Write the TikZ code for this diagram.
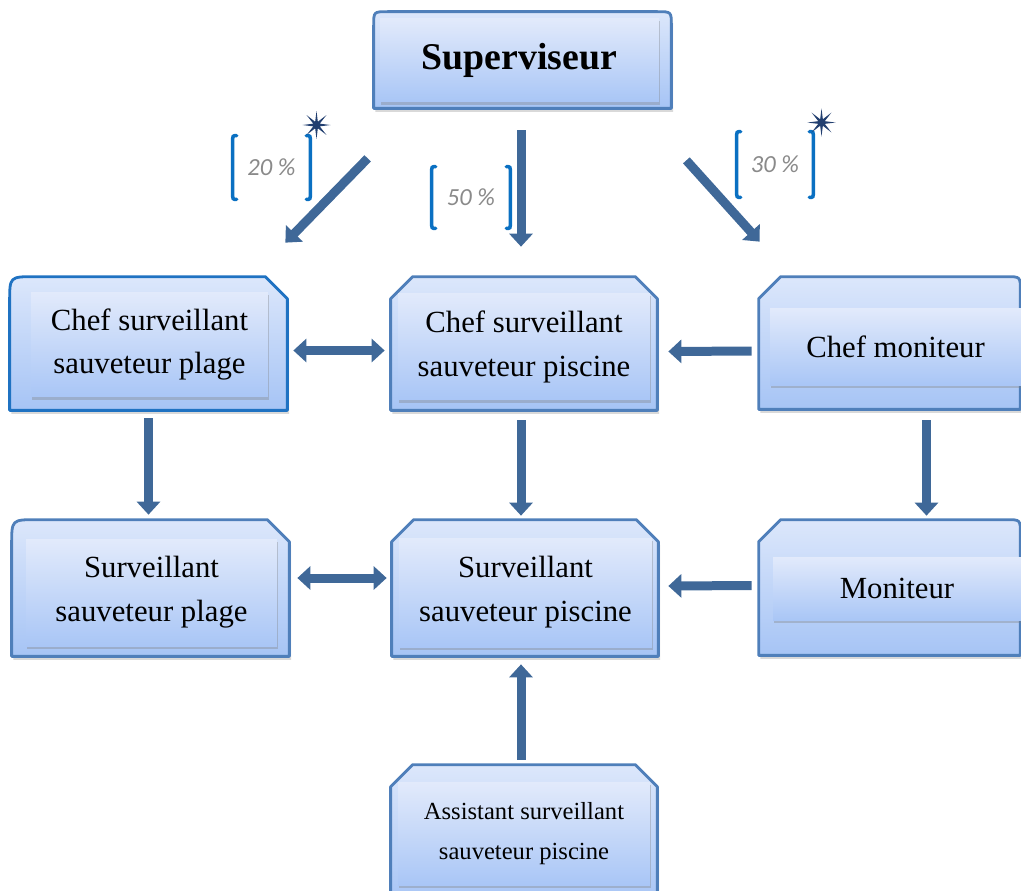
\documentclass[tikz,border=0pt]{standalone}
\usepackage{fontspec}
\setmainfont{Liberation Serif}
\newfontfamily\calib{Carlito}
\usetikzlibrary{arrows.meta,calc,fit,shadows,shapes.geometric}
\definecolor{arrowc}{HTML}{3F6898}
\definecolor{borderc}{HTML}{4F7FBA}
\definecolor{borderb}{HTML}{1F72C2}
\definecolor{filltop}{HTML}{DCE7FB}
\definecolor{fillbot}{HTML}{A6C4F5}
\definecolor{innertop}{HTML}{E2EAFB}
\definecolor{innerbot}{HTML}{A9C6F6}
\definecolor{brackc}{HTML}{0A70C2}
\definecolor{pctc}{HTML}{8A8A8A}
\definecolor{starc}{HTML}{223F70}
\begin{document}
\begin{tikzpicture}[x=0.02cm,y=-0.02cm,
  frame/.style={inner sep=0pt, draw=none},
  outerst/.style={draw=borderc, line width=1.6pt, line join=round, top color=filltop, bottom color=fillbot,
    drop shadow={shadow xshift=1pt, shadow yshift=-2pt, opacity=0.3}},
  innerst/.style={inner sep=0pt, align=center, top color=innertop, bottom color=innerbot,
    drop shadow={shadow xshift=0.6pt, shadow yshift=-1.6pt, opacity=0.35},
    font=\fontsize{17.5}{25}\selectfont},
  barrow/.style={draw=arrowc, line width=0.18cm, -{Triangle[width=0.46cm,length=0.26cm]}},
  dbarrow/.style={draw=arrowc, line width=0.18cm, {Triangle[width=0.46cm,length=0.26cm]}-{Triangle[width=0.46cm,length=0.26cm]}},
  pct/.style={inner sep=0pt, font=\calib\itshape\fontsize{14}{16}\selectfont, text=pctc},
  bracket/.style={draw=brackc, line width=2pt, line cap=round},
  sparkle/.style={star, star points=8, star point ratio=4, fill=starc, inner sep=0pt, minimum size=0.56cm}
]
\useasboundingbox (0,0) rectangle (1021,890);
\clip (0,0) rectangle (1021,890);

% frames of the outer boxes
\node[frame, fit={(374,12)(671,108)}] (sup) {};
\node[frame, fit={(10,277)(287,410)}] (csp) {};
\node[frame, fit={(391,277)(657,410)}] (cspi) {};
\node[frame, fit={(759,277)(1020,409)}] (cm) {};
\node[frame, fit={(12,520)(289,656)}] (ssp) {};
\node[frame, fit={(392,520)(658,656)}] (sspi) {};
\node[frame, fit={(759,520)(1020,655)}] (mon) {};
\node[frame, fit={(391,765)(657,905)}] (asp) {};

% outer outlines
\path[outerst] (sup.south west) -- ($(sup.north west)+(0,14)$) .. controls (sup.north west) .. ($(sup.north west)+(14,0)$)
  -- ($(sup.north east)+(-14,0)$) .. controls (sup.north east) .. ($(sup.north east)+(0,14)$) -- (sup.south east) -- cycle;
\path[outerst, draw=borderb] (csp.south west) -- ($(csp.north west)+(0,25)$) .. controls (csp.north west) .. ($(csp.north west)+(25,0)$)
  -- ($(csp.north east)+(-22,0)$) -- ($(csp.north east)+(0,22)$) -- (csp.south east) -- cycle;
\path[outerst] (cspi.south west) -- ($(cspi.north west)+(0,22)$) -- ($(cspi.north west)+(22,0)$)
  -- ($(cspi.north east)+(-22,0)$) -- ($(cspi.north east)+(0,22)$) -- (cspi.south east) -- cycle;
\path[outerst] (cm.south west) -- ($(cm.north west)+(0,22)$) -- ($(cm.north west)+(22,0)$)
  -- ($(cm.north east)+(-14,0)$) .. controls (cm.north east) .. ($(cm.north east)+(0,14)$) -- (cm.south east) -- cycle;
\path[outerst] (ssp.south west) -- ($(ssp.north west)+(0,25)$) .. controls (ssp.north west) .. ($(ssp.north west)+(25,0)$)
  -- ($(ssp.north east)+(-22,0)$) -- ($(ssp.north east)+(0,22)$) -- (ssp.south east) -- cycle;
\path[outerst] (sspi.south west) -- ($(sspi.north west)+(0,22)$) -- ($(sspi.north west)+(22,0)$)
  -- ($(sspi.north east)+(-22,0)$) -- ($(sspi.north east)+(0,22)$) -- (sspi.south east) -- cycle;
\path[outerst] (mon.south west) -- ($(mon.north west)+(0,22)$) -- ($(mon.north west)+(22,0)$)
  -- ($(mon.north east)+(-14,0)$) .. controls (mon.north east) .. ($(mon.north east)+(0,14)$) -- (mon.south east) -- cycle;
\path[outerst] (asp.south west) -- ($(asp.north west)+(0,22)$) -- ($(asp.north west)+(22,0)$)
  -- ($(asp.north east)+(-22,0)$) -- ($(asp.north east)+(0,22)$) -- (asp.south east) -- cycle;

% inner text boxes
\node[innerst, minimum width=5.58cm, minimum height=1.68cm, font=\fontsize{21.5}{26}\selectfont\bfseries] (tsup) at (519.5,60) {Superviseur};
\node[innerst, minimum width=4.74cm, minimum height=2.10cm] (tcsp) at (149.5,344.5) {Chef surveillant\\sauveteur plage};
\node[innerst, minimum width=5.04cm, minimum height=2.14cm] (tcspi) at (524,346.5) {Chef surveillant\\sauveteur piscine};
\node[innerst, minimum width=5.02cm, minimum height=1.54cm] (tcm) at (895.5,346.5) {Chef moniteur};
\node[innerst, minimum width=5.02cm, minimum height=2.14cm] (tssp) at (151.5,592.5) {Surveillant\\sauveteur plage};
\node[innerst, minimum width=5.06cm, minimum height=2.18cm] (tsspi) at (525.5,592.5) {Surveillant\\sauveteur piscine};
\node[innerst, minimum width=4.96cm, minimum height=1.26cm] (tmon) at (897,588.5) {Moniteur};
\node[innerst, minimum width=5.04cm, minimum height=2.06cm, font=\fontsize{14}{22.8}\selectfont] (tasp) at (524,833.5) {Assistant surveillant\\sauveteur piscine};

% arrows from the supervisor
\draw[barrow] ($(sup.south west)+(-6,50)$) -- ($(csp.north east)+(-2,-34)$);
\draw[barrow] ($(sup.south)+(-1.5,22)$) -- ($(cspi.north)+(-3,-30)$);
\draw[barrow] ($(sup.south east)+(15,52)$) -- ($(cm.north west)+(1,-35)$);

% horizontal arrows
\draw[dbarrow] ($(csp.east)+(6,7)$) -- ($(cspi.west)+(-6,7)$);
\draw[barrow] ($(cm.west)+(-7,8)$) -- ($(cspi.east)+(11,8)$);
\draw[dbarrow] ($(ssp.east)+(8,-10)$) -- ($(sspi.west)+(-5,-10)$);
\draw[barrow] ($(mon.west)+(-7,-2)$) -- ($(sspi.east)+(10,-2)$);

% vertical arrows
\draw[barrow] ($(csp.south)+(0,8)$) -- ($(ssp.north)+(-2,-5)$);
\draw[barrow] ($(cspi.south)+(-3,10)$) -- ($(sspi.north)+(-4,-4)$);
\draw[barrow] ($(cm.south)+(37,11)$) -- ($(mon.north)+(37,-4)$);
\draw[barrow] ($(asp.north)+(-3,-5)$) -- ($(sspi.south)+(-4,8)$);

% percentage labels
\node[pct, minimum width=1.54cm, minimum height=1.26cm] (p20) at (271.5,167.5) {20 \%};
\node[pct, minimum width=1.56cm, minimum height=1.22cm] (p50) at (471,197.5) {50 \%};
\node[pct, minimum width=1.52cm, minimum height=1.30cm] (p30) at (775,164.5) {30 \%};
\foreach \p in {p20,p50,p30}{
  \draw[bracket] ($(\p.north west)+(4,0)$) .. controls ($(\p.north west)+(0,0)$) .. ($(\p.north west)+(0,6)$)
    -- ($(\p.south west)+(0,-6)$) .. controls ($(\p.south west)+(0,0)$) .. ($(\p.south west)+(4,0)$);
  \draw[bracket] ($(\p.north east)+(-4,0)$) .. controls ($(\p.north east)+(0,0)$) .. ($(\p.north east)+(0,6)$)
    -- ($(\p.south east)+(0,-6)$) .. controls ($(\p.south east)+(0,0)$) .. ($(\p.south east)+(-4,0)$);
}
\node[sparkle] (st1) at (316.5,125) {};
\node[sparkle] (st2) at (821.5,122.5) {};
\end{tikzpicture}
\end{document}
